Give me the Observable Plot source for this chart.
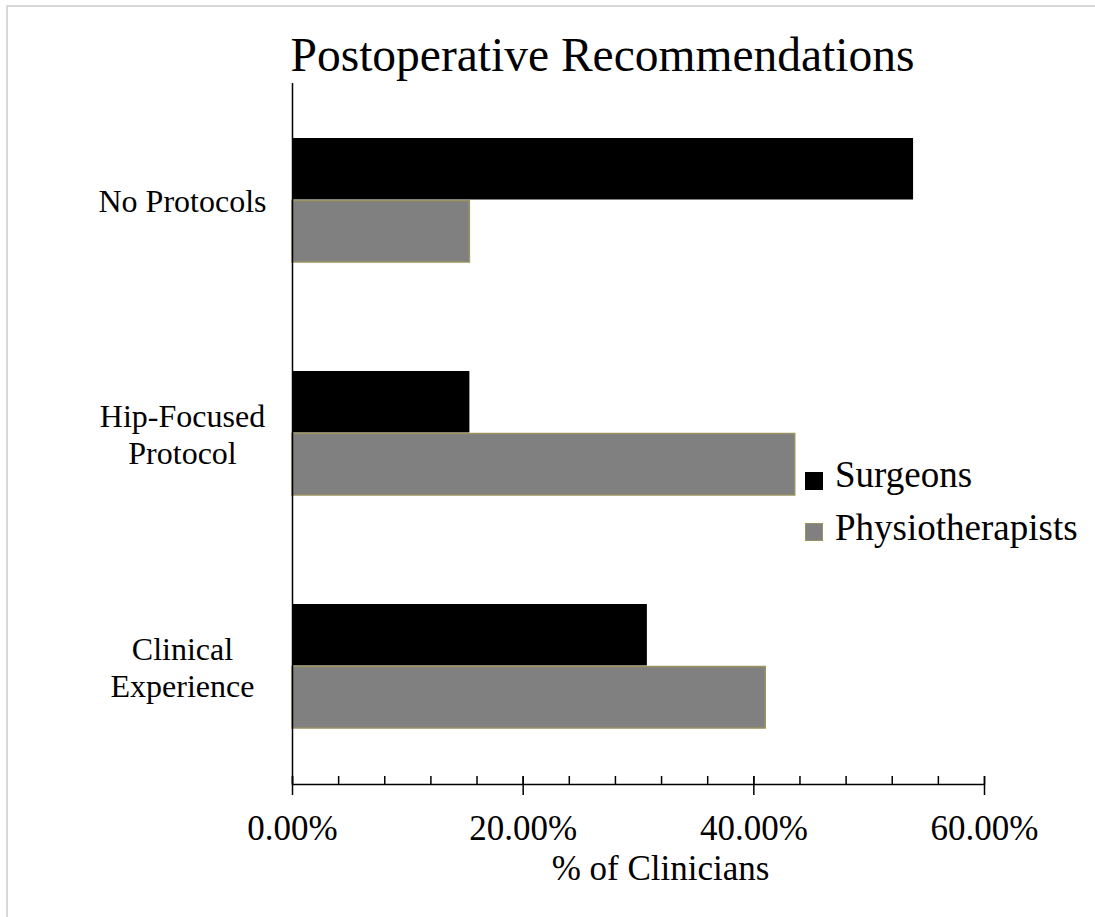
<!DOCTYPE html>
<html>
<head>
<meta charset="utf-8">
<script src="https://cdn.jsdelivr.net/npm/d3@7"></script>
<script src="https://cdn.jsdelivr.net/npm/@observablehq/plot@0.6"></script>
<style>
html, body { margin: 0; padding: 0; background: #fff; }
#wrap { position: relative; width: 1095px; height: 917px; overflow: hidden; font-family: "Liberation Serif", "Times New Roman", serif; color: #000; background: #fff; }
#border { position: absolute; left: 6px; top: 5px; width: 1300px; height: 1100px; border-left: 2px solid #d9d9d9; border-top: 2px solid #d9d9d9; }
#chart { position: absolute; left: 0; top: 0; }
#title { position: absolute; left: 602.5px; top: 32px; transform: translateX(-50%); font-size: 47.5px; line-height: 47px; white-space: nowrap; }
.sw { position: absolute; left: 805px; width: 18px; height: 18px; box-sizing: border-box; }
.lt { position: absolute; left: 835px; font-size: 37px; line-height: 37px; white-space: nowrap; }
</style>
</head>
<body>
<div id="wrap">
  <div id="border"></div>
  <div id="chart"></div>
  <div id="title"></div>
  <div id="legend"></div>
</div>
<script>
const titleText = "Postoperative Recommendations";
const axisTitle = "% of Clinicians";
const categories = ["No Protocols", "Hip-Focused Protocol", "Clinical Experience"];
const categoryLabels = ["No Protocols", "Hip-Focused\nProtocol", "Clinical\nExperience"];
const seriesNames = ["Surgeons", "Physiotherapists"];
const seriesColors = ["#000000", "#808080"];
const surgeons = [53.85, 15.38, 30.77];
const physiotherapists = [15.38, 43.59, 41.03];
const majorTicks = [0, 20, 40, 60];
const minorTicks = [0, 4, 8, 12, 16, 20, 24, 28, 32, 36, 40, 44, 48, 52, 56, 60];

const surgeonRows = categories.map((c, i) => ({category: c, value: surgeons[i]}));
const physioRows = categories.map((c, i) => ({category: c, value: physiotherapists[i]}));
const labelRows = categories.map((c, i) => ({category: c, label: categoryLabels[i]}));

const font = '"Liberation Serif", "Times New Roman", serif';

const chart = Plot.plot({
  width: 1095,
  height: 917,
  marginLeft: 292,
  marginRight: 111,
  marginTop: 83,
  marginBottom: 133,
  style: {fontFamily: font, color: "#000", background: "transparent", overflow: "visible"},
  x: {domain: [0, 60], label: null},
  y: {domain: categories, paddingInner: 0.466, paddingOuter: 0.231, axis: null, label: null},
  marks: [
    Plot.barX(surgeonRows, {x: "value", y: "category", fill: seriesColors[0], insetBottom: 62.5}),
    Plot.barX(physioRows, {x: "value", y: "category", fill: seriesColors[1], stroke: "#9b9360", strokeWidth: 1.5, insetTop: 62.5}),
    Plot.ruleX([0], {stroke: "#000", strokeWidth: 1.5}),
    Plot.frame({anchor: "bottom", stroke: "#000", strokeWidth: 1.5}),
    Plot.axisX({ticks: minorTicks, tickSize: 8, dy: -8, tickFormat: () => "", strokeWidth: 1.5, label: null}),
    Plot.axisX({ticks: majorTicks, tickSize: 19, dy: -8, tickPadding: 20, strokeWidth: 1.5, label: null,
      tickFormat: d => d.toFixed(2) + "%", fontSize: 35, fill: "#000"}),
    Plot.text(labelRows, {y: "category", text: "label", frameAnchor: "left", dx: -110,
      textAnchor: "middle", fontSize: 32, lineHeight: 1.147, fill: "#000"}),
    Plot.text([axisTitle], {frameAnchor: "bottom", dy: 95, dx: 22, fontSize: 35, fill: "#000"})
  ]
});
document.getElementById("chart").appendChild(chart);
document.getElementById("title").textContent = titleText;

const legend = document.getElementById("legend");
const swTops = [472, 523];
const textTops = [456, 509];
seriesNames.forEach((name, i) => {
  const sw = document.createElement("div");
  sw.className = "sw";
  sw.style.top = swTops[i] + "px";
  sw.style.background = seriesColors[i];
  if (i === 1) sw.style.border = "1.5px solid #9b9360";
  legend.appendChild(sw);
  const t = document.createElement("div");
  t.className = "lt";
  t.style.top = textTops[i] + "px";
  t.textContent = name;
  legend.appendChild(t);
});
</script>
</body>
</html>
